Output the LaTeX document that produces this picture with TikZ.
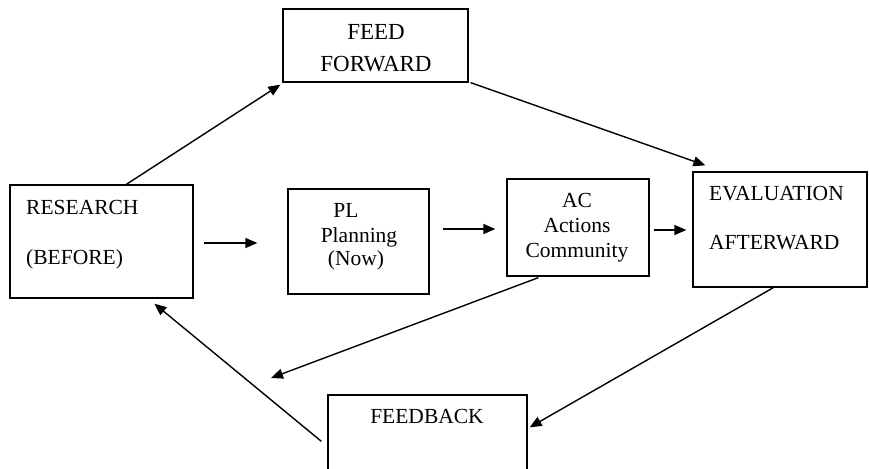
\documentclass[tikz,border=0pt]{standalone}
\usepackage{fontspec}
\setmainfont{Liberation Serif}
\usetikzlibrary{arrows.meta,calc}
\begin{document}
\begin{tikzpicture}[x=1pt,y=-1pt,
  box/.style={draw, line width=1.3pt, inner sep=0pt},
  lbl/.style={font=\fontsize{21.5}{25}\selectfont, inner sep=0pt, anchor=base},
  lbll/.style={lbl, anchor=base west},
  big/.style={font=\fontsize{23}{27}\selectfont},
  arr/.style={line width=1.4pt, -{Triangle[length=12pt,width=10pt]}}]
\useasboundingbox (0,0) rectangle (869,468);
% boxes
\node[box, minimum width=185pt, minimum height=73pt]  (ff)  at (375.5,45.5) {};
\node[box, minimum width=183pt, minimum height=113pt] (res) at (101.5,241.5) {};
\node[box, minimum width=141pt, minimum height=105pt] (pl)  at (358.5,241.5) {};
\node[box, minimum width=142pt, minimum height=97pt]  (ac)  at (578,227.5) {};
\node[box, minimum width=174pt, minimum height=115pt] (ev)  at (780,229.5) {};
\node[box, minimum width=199pt, minimum height=77pt]  (fb)  at (427.5,433.5) {};
% texts
\node[lbl,big] (t1) at (376,40) {FEED};
\node[lbl,big] (t2) at (376,72) {FORWARD};
\node[lbll] (t3) at (26,214) {RESEARCH};
\node[lbll] (t4) at (26,264) {(BEFORE)};
\node[lbl] (t5) at (346,217) {PL};
\node[lbl] (t6) at (359,242) {Planning};
\node[lbl] (t7) at (356,265) {(Now)};
\node[lbl] (t8) at (577,207) {AC};
\node[lbl] (t9) at (577,232) {Actions};
\node[lbl] (t10) at (577,257) {Community};
\node[lbll] (t11) at (709,200) {EVALUATION};
\node[lbll] (t12) at (709,249) {AFTERWARD};
\node[lbl] (t13) at (427,423) {FEEDBACK};
% connectors
\coordinate (free) at (271,378);
\draw[arr] ($(res.north west)+(117,0)$) -- ($(ff.south west)+(-2,2)$);
\draw[arr] ($(ff.south east)+(2,0)$) -- ($(ev.north west)+(13,-6)$);
\draw[arr] ($(res.east)+(10,1.5)$) -- ($(pl.west)+(-30,1.5)$);
\draw[arr] ($(pl.east)+(13,-12.5)$) -- ($(ac.west)+(-11,1.5)$);
\draw[arr] ($(ac.east)+(4,2.5)$) -- ($(ev.west)+(-6,0.5)$);
\draw[arr] ($(ac.south west)+(32,1)$) -- (free);
\draw[arr] ($(ev.south west)+(81,0)$) -- ($(fb.north east)+(2,33)$);
\draw[arr] ($(fb.north west)+(-6,47)$) -- ($(res.south west)+(145,5)$);
\end{tikzpicture}
\end{document}
